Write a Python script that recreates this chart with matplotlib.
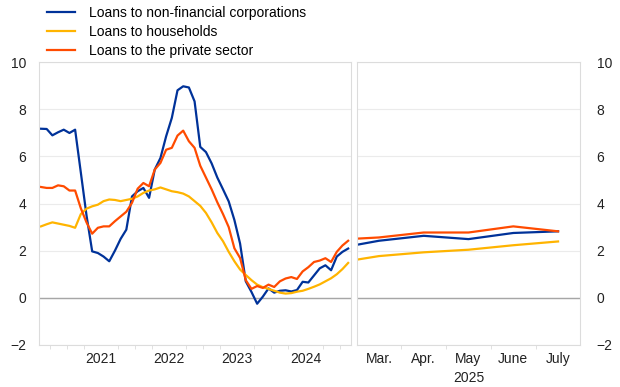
import numpy as np
import matplotlib
matplotlib.use("Agg")
import matplotlib.pyplot as plt
from matplotlib.ticker import FixedLocator

plt.rcParams['font.family'] = ['Liberation Sans', 'DejaVu Sans']
plt.rcParams['font.size'] = 10

# monthly history, Aug 2020 .. Feb 2025 (index 0 = Aug 2020)
nfc = [7.17, 7.16, 6.89, 7.02, 7.13, 6.99, 7.13, 5.32, 3.5, 1.97, 1.9, 1.75, 1.55, 2.0, 2.5, 2.89, 4.3,
       4.52, 4.66, 4.24, 5.44, 5.93, 6.85, 7.63, 8.8, 8.97, 8.92, 8.33,
       6.4, 6.18, 5.7, 5.1, 4.6, 4.09, 3.3, 2.3, 0.7, 0.25, -0.25, 0.05, 0.4, 0.22, 0.3,
       0.32, 0.27, 0.33, 0.68, 0.65, 0.95, 1.25, 1.38, 1.17, 1.75, 1.95, 2.09]
households = [3.03, 3.12, 3.2, 3.15, 3.1, 3.05, 2.97, 3.55, 3.78, 3.88, 3.95, 4.1, 4.17, 4.15, 4.1, 4.15, 4.2,
              4.3, 4.45, 4.55, 4.6, 4.68, 4.6, 4.52, 4.48, 4.42, 4.3, 4.1,
              3.9, 3.6, 3.2, 2.75, 2.4, 1.95, 1.55, 1.2, 0.97, 0.75, 0.56, 0.45, 0.38, 0.3, 0.22,
              0.18, 0.2, 0.26, 0.3, 0.38, 0.47, 0.57, 0.7, 0.83, 1.0, 1.22, 1.48]
private = [4.7, 4.66, 4.66, 4.77, 4.73, 4.55, 4.55, 3.8, 3.2, 2.72, 2.97, 3.03, 3.03, 3.25, 3.45, 3.65, 4.03,
           4.63, 4.87, 4.73, 5.44, 5.72, 6.28, 6.36, 6.88, 7.09, 6.64, 6.36,
           5.6, 5.1, 4.6, 4.05, 3.55, 3.0, 2.1, 1.69, 0.75, 0.38, 0.5, 0.42, 0.56, 0.46, 0.7,
           0.82, 0.88, 0.8, 1.12, 1.3, 1.52, 1.58, 1.68, 1.52, 1.95, 2.22, 2.42]
years = ['2021', '2022', '2023', '2024']
first_jan = 5  # index of Jan 2021

# recent months of 2025 (month number)
recent_x = [2.51, 3, 4, 5, 6, 7]
recent_nfc = [2.25, 2.42, 2.63, 2.49, 2.75, 2.82]
recent_hh = [1.62, 1.77, 1.93, 2.04, 2.23, 2.39]
recent_ps = [2.51, 2.56, 2.77, 2.77, 3.03, 2.82]
month_labels = ['Mar.', 'Apr.', 'May\n2025', 'June', 'July']

c_nfc = '#003299'
c_hh = '#ffb400'
c_ps = '#ff4b00'
frame = '#dcdcdc'
grid = '#ebebeb'

fig = plt.figure(figsize=(6.2, 3.87), dpi=100)
ax1 = fig.add_axes([39/620, 42/387, 312/620, 283/387])
ax2 = fig.add_axes([357/620, 42/387, 223/620, 283/387])

x = np.arange(len(nfc))
l1, = ax1.plot(x, nfc, color=c_nfc, lw=1.6)
l2, = ax1.plot(x, households, color=c_hh, lw=1.6)
l3, = ax1.plot(x, private, color=c_ps, lw=1.6)
ax2.plot(recent_x, recent_nfc, color=c_nfc, lw=1.6)
ax2.plot(recent_x, recent_hh, color=c_hh, lw=1.6)
ax2.plot(recent_x, recent_ps, color=c_ps, lw=1.6)

for ax in (ax1, ax2):
    ax.set_ylim(-2, 10)
    ax.set_yticks(range(-2, 11, 2))
    ax.grid(axis='y', color=grid, lw=0.8)
    ax.set_axisbelow(True)
    ax.axhline(0, color='#a6a6a6', lw=1, zorder=1)
    for s in ax.spines.values():
        s.set_color(frame)
        s.set_linewidth(0.8)
    ax.tick_params(axis='y', length=0, labelsize=10, colors='#222222')
    ax.tick_params(axis='x', which='both', colors=frame, labelcolor='#222222', labelsize=10)
    ax.tick_params(axis='x', which='major', length=0, pad=5)
    ax.tick_params(axis='x', which='minor', length=3)

# left panel: quarterly minor ticks, year labels mid-year
ax1.set_xlim(-0.35, 54.5)
ax1.xaxis.set_minor_locator(FixedLocator(np.arange(first_jan - 0.5 - 3, 54.5, 3)))
ax1.set_xticks([first_jan + 5.5 + 12 * k for k in range(len(years))])
ax1.set_xticklabels(years)
ax1.tick_params(axis='y', pad=9)

# right panel
ax2.set_xlim(2.51, 7.49)
ax2.set_xticks([3, 4, 5, 6, 7])
ax2.set_xticklabels(month_labels, linespacing=1.5)
ax2.xaxis.set_minor_locator(FixedLocator(np.arange(3, 7.6, 0.5)))
ax2.yaxis.tick_right()
ax2.tick_params(axis='y', pad=12)

fig.legend([l1, l2, l3],
           ['Loans to non-financial corporations', 'Loans to households', 'Loans to the private sector'],
           loc='upper left', bbox_to_anchor=(47/620, 1 - 6/387), frameon=False,
           handlelength=2.0, handletextpad=1.0, labelspacing=0.35, borderpad=0, borderaxespad=0,
           fontsize=10)

fig.savefig('out.png', dpi=100)
